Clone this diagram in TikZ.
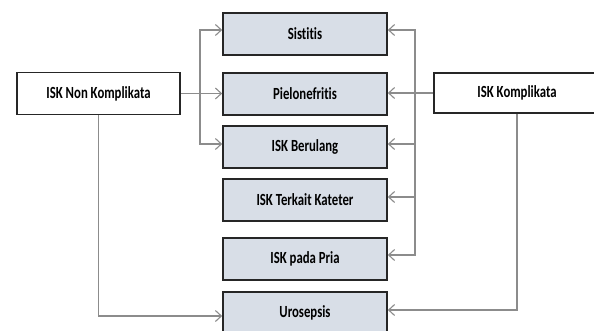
\documentclass[tikz,border=0pt]{standalone}
\usepackage{fontspec}
\setmainfont{Carlito}[FakeStretch=0.75,Ligatures=NoCommon]
\usetikzlibrary{arrows.meta}
\definecolor{boxfill}{HTML}{D8DEE7}
\definecolor{boxline}{HTML}{262626}
\definecolor{linegray}{HTML}{8C8C8C}
\tikzset{
  catbox/.style={draw=boxline, line width=1.6pt, fill=boxfill, minimum width=164pt, minimum height=42pt, inner sep=0pt, font=\fontsize{17}{20}\selectfont\bfseries, text=black},
  mainbox/.style={draw=boxline, line width=1.6pt, fill=white, minimum width=163pt, minimum height=42pt, inner sep=0pt, font=\fontsize{17}{20}\selectfont\bfseries, text=black},
  arr/.style={draw=linegray, line width=1.1pt, -{Straight Barb[length=6pt,width=11pt,line width=1.1pt]}},
  conn/.style={draw=linegray, line width=1.1pt}
}
\begin{document}
\begin{tikzpicture}[x=1pt,y=-1pt]
\useasboundingbox (0,0) rectangle (594,331);
\node[catbox] (s1) at (305,34) {Sistitis};
\node[catbox] (s2) at (305,94) {Pielonefritis};
\node[catbox] (s3) at (305,147) {ISK Berulang};
\node[catbox] (s4) at (305,200) {ISK Terkait Kateter};
\node[catbox] (s5) at (305,259) {ISK pada Pria};
\node[catbox] (s6) at (305,313) {Urosepsis};
\node[mainbox] (nk) at (98.5,93.5) {ISK Non Komplikata};
\node[mainbox, minimum width=166pt, minimum height=40pt] (k) at (517,93) {ISK Komplikata};
\coordinate (lbus) at (200,93.5);
\coordinate (rbus) at (415,93);
% left
\draw[arr] (nk.east) -- (nk.east -| s2.west);
\draw[arr] (lbus) |- ([yshift=4pt]s1.west);
\draw[arr] (lbus) |- ([yshift=3pt]s3.west);
\draw[arr] (nk.south) |- ([yshift=-3pt]s6.west);
% right
\draw[arr] (k.west) -- (k.west -| s2.east);
\draw[arr] (rbus) |- ([yshift=4pt]s1.east);
\draw[arr] (rbus) |- ([yshift=3pt]s3.east);
\draw[arr] (rbus) |- ([yshift=3pt]s4.east);
\draw[arr] (rbus) |- ([yshift=4pt]s5.east);
\draw[arr] (k.south) |- ([yshift=3pt]s6.east);
\end{tikzpicture}
\end{document}
